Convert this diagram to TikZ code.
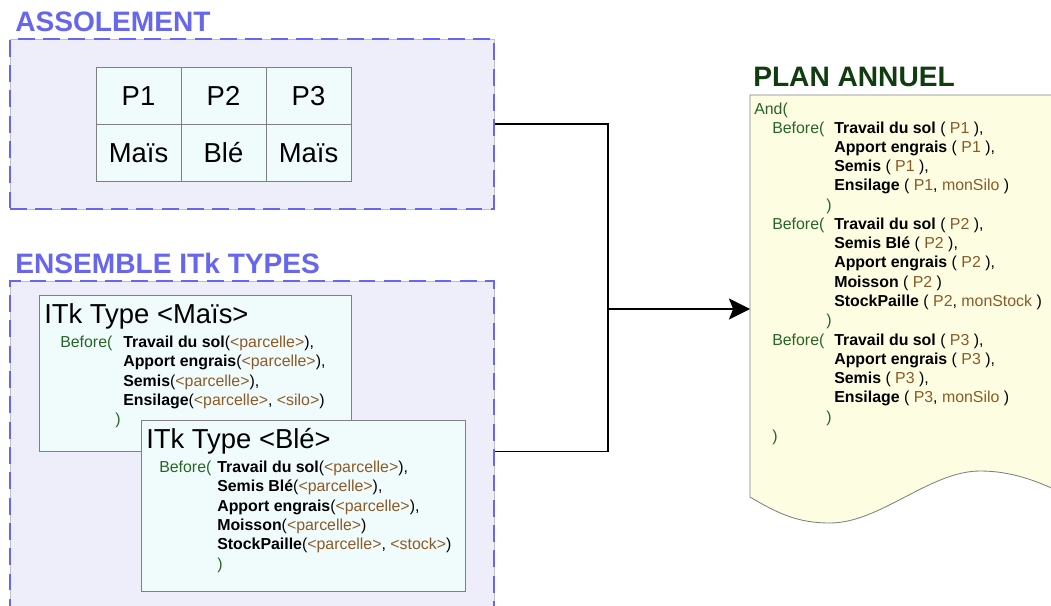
\documentclass[tikz,border=0pt]{standalone}
\usepackage{fontspec}
\setmainfont{Liberation Sans}
\usepackage{tikz}
\usetikzlibrary{arrows.meta}

\definecolor{zoneblue}{RGB}{102,102,238}
\definecolor{zonefill}{RGB}{238,238,250}
\definecolor{cellfill}{RGB}{240,252,252}
\definecolor{planfill}{RGB}{253,253,226}
\definecolor{plangreen}{RGB}{16,60,16}
\definecolor{kwgreen}{RGB}{40,100,40}
\definecolor{argbrown}{RGB}{140,90,40}
\newcommand{\kw}[1]{\textcolor{kwgreen}{#1}}
\newcommand{\prm}[1]{\textcolor{argbrown}{#1}}

\begin{document}
\begin{tikzpicture}[x = 0.025cm, y = -0.025cm,
	zone/.style = {preaction = {fill = zonefill, draw = gray!50, solid, line width = 0.5pt}, draw = zoneblue, line width = 2pt, dash pattern = on 12pt off 6pt, minimum width = 12.1cm, inner sep = 0},
	title/.style = {anchor = base west, inner sep = 0, font = \fontsize{20}{24}\selectfont\bfseries},
	cell/.style = {draw = gray, fill = cellfill, line width = 0.6pt, minimum width = 2.125cm, minimum height = 1.425cm, inner sep = 0, text height = 14pt, text depth = 0pt, font = \fontsize{19.5}{23}\selectfont},
	itk/.style = {draw = gray, fill = cellfill, line width = 0.6pt, inner sep = 0},
	head/.style = {anchor = base west, inner sep = 0, font = \fontsize{19.5}{23}\selectfont},
	code/.style = {anchor = base west, inner sep = 0, font = \fontsize{11.3}{13.7}\selectfont},
	link/.style = {line width = 1.1pt}]
	 \useasboundingbox (0, 0) rectangle (1051, 605);
	 
	 \node[title, text = zoneblue] (assotitle) at (15, 31) {ASSOLEMENT};
	 \node[zone, minimum height = 4.25cm] (asso) at (252, 124) {};
	 \foreach \p/\c [count = \i] in {P1/Maïs, P2/Blé, P3/Maïs} {
	 \node[cell] (p\i) at (53.5 + 85 * \i, 95.5) {\p};
	 \node[cell] (c\i) at (53.5 + 85 * \i, 152.5) {\c};
	 }
	 
	 \node[title, text = zoneblue] (enstitle) at (15, 273) {ENSEMBLE ITk TYPES};
	 \node[zone, minimum height = 8.975cm] (ens) at (252, 460.5) {};
	 
	 \node[itk, minimum width = 7.8125cm, minimum height = 3.9cm] (mais) at (195.25, 373) {};
	 \node[head] (maishead) at (44, 323) {ITk Type <Maïs>};
	 \node[code] (maisbefore) at (60, 347) {\kw{Before(}};
	 \foreach \y/\txt [count = \i] in {347/{\textbf{Travail du sol}(\prm{<parcelle>}),}, 366.5/{\textbf{Apport engrais}(\prm{<parcelle>}),}, 386/{\textbf{Semis}(\prm{<parcelle>}),}, 405/{\textbf{Ensilage}(\prm{<parcelle>}, \prm{<silo>})}}
	 \node[code] (mais\i) at (123, \y) {\txt};
	 \node[code] (maisend) at (115, 424.5) {\kw{)}};
	 
	 \node[itk, minimum width = 8.1cm, minimum height = 4.275cm] (ble) at (303.5, 505.5) {};
	 \node[head] (blehead) at (146, 448) {ITk Type <Blé>};
	 \node[code] (blebefore) at (159, 472) {\kw{Before(}};
	 \foreach \y/\txt [count = \i] in {472/{\textbf{Travail du sol}(\prm{<parcelle>}),}, 491.5/{\textbf{Semis Blé}(\prm{<parcelle>}),}, 511/{\textbf{Apport engrais}(\prm{<parcelle>}),}, 530/{\textbf{Moisson}(\prm{<parcelle>})}, 549.5/{\textbf{StockPaille}(\prm{<parcelle>}, \prm{<stock>})}}
	 \node[code] (ble\i) at (217, \y) {\txt};
	 \node[code] (bleend) at (217, 569) {\kw{)}};
	 
	 \node[title, text = plangreen] (plantitle) at (753, 86) {PLAN ANNUEL};
	 \filldraw[fill = planfill, draw = gray, line width = 0.6pt] (1060, 95) -- (750, 95) -- (750, 497) .. controls (780, 515) and (800, 523) .. (830, 523) .. controls (880, 523) and (930, 471) .. (980, 471) .. controls (1010, 471) and (1035, 480) .. (1060, 492);
	 \foreach \y/\x/\txt [count = \i] in {114/754/{\kw{And(}},
	 133/772/{\kw{Before(}}, 133/834/{\textbf{Travail du sol} ( \prm{P1} ),}, 152.3/834/{\textbf{Apport engrais} ( \prm{P1} ),}, 171.5/834/{\textbf{Semis} ( \prm{P1} ),}, 190.8/834/{\textbf{Ensilage} ( \prm{P1}, \prm{monSilo} )}, 210/826/{\kw{)}},
	 229.4/772/{\kw{Before(}}, 229.4/834/{\textbf{Travail du sol} ( \prm{P2} ),}, 248.6/834/{\textbf{Semis Blé} ( \prm{P2} ),}, 267.9/834/{\textbf{Apport engrais} ( \prm{P2} ),}, 287.2/834/{\textbf{Moisson} ( \prm{P2} )}, 306.4/834/{\textbf{StockPaille} ( \prm{P2}, \prm{monStock} )}, 325.7/826/{\kw{)}},
	 345/772/{\kw{Before(}}, 345/834/{\textbf{Travail du sol} ( \prm{P3} ),}, 364.2/834/{\textbf{Apport engrais} ( \prm{P3} ),}, 383.5/834/{\textbf{Semis} ( \prm{P3} ),}, 402.8/834/{\textbf{Ensilage} ( \prm{P3}, \prm{monSilo} )}, 422/826/{\kw{)}},
	 441.3/772/{\kw{)}}}
	 \node[code] (plan\i) at (\x, \y) {\txt};
	 
	 \coordinate (jn) at (608, 309);
	 \coordinate (planin) at (750, 309);
	 \draw[link] (asso.east) -| (jn);
	 \draw[link] (ens.east |- mais.south) -| (jn);
	 \draw[link, -{Stealth[length = 15pt, width = 15pt, inset = 3pt]}] (jn) -- (planin);
\end{tikzpicture}
\end{document}
